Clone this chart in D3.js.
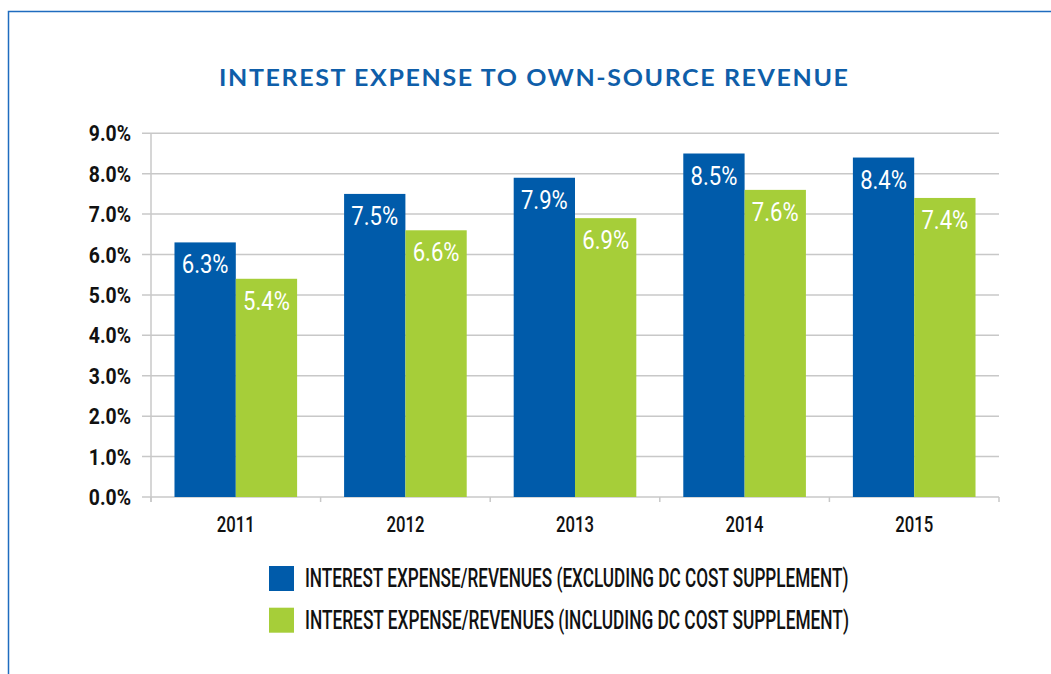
<!DOCTYPE html>
<html>
<head>
<meta charset="utf-8">
<script src="https://cdn.jsdelivr.net/npm/d3@7"></script>
<style>
  html, body { margin: 0; padding: 0; background: #fff; }
  svg { display: block; }
  .narrow { font-family: Roboto, "DejaVu Sans", sans-serif; }
</style>
</head>
<body>
<svg id="chart" width="1051" height="674"></svg>
<script>
// Chart data
const years = ["2011", "2012", "2013", "2014", "2015"];
const excludingSupplement = [6.3, 7.5, 7.9, 8.5, 8.4];
const includingSupplement = [5.4, 6.6, 6.9, 7.6, 7.4];
const seriesNames = [
  "INTEREST EXPENSE/REVENUES (EXCLUDING DC COST SUPPLEMENT)",
  "INTEREST EXPENSE/REVENUES (INCLUDING DC COST SUPPLEMENT)"
];
const yTicks = [0, 1, 2, 3, 4, 5, 6, 7, 8, 9];
const titleText = "INTEREST EXPENSE TO OWN-SOURCE REVENUE";

const colors = ["#005BAA", "#A6CE39"];
const series = [excludingSupplement, includingSupplement];

const svg = d3.select("#chart");

// squeeze a text horizontally so that it spans the given width
function squeeze(sel, width) {
  sel.each(function () {
    const t = d3.select(this);
    const len = this.getComputedTextLength();
    const s = len > 0 ? width / len : 1;
    const x = +t.attr("x"), y = +t.attr("y");
    t.attr("x", 0).attr("y", 0)
      .attr("transform", `translate(${x},${y}) scale(${s},1)`);
  });
}
// condense a text by a fixed horizontal factor
function condense(sel, s) {
  sel.each(function () {
    const t = d3.select(this);
    const x = +t.attr("x"), y = +t.attr("y");
    t.attr("x", 0).attr("y", 0)
      .attr("transform", `translate(${x},${y}) scale(${s},1)`);
  });
}

// outer frame
svg.append("rect")
  .attr("x", 8.5).attr("y", 11.5)
  .attr("width", 1100).attr("height", 700)
  .attr("fill", "none")
  .attr("stroke", "#1f6cbf")
  .attr("stroke-width", 1.5);

// title
svg.append("text")
  .attr("x", 219).attr("y", 86)
  .attr("fill", "#0f5ea9")
  .style("font-family", "Lato, 'Open Sans', sans-serif")
  .style("font-weight", 700)
  .style("font-size", "23px")
  .style("letter-spacing", "1.5px")
  .text(titleText)
  .call(squeeze, 631);

const plot = { left: 151, right: 999, top: 133.3, bottom: 497 };

const x0 = d3.scaleBand()
  .domain(years)
  .range([plot.left, plot.right])
  .paddingInner(0.277)
  .paddingOuter(0.1385);

const x1 = d3.scaleBand()
  .domain(d3.range(series.length))
  .range([0, x0.bandwidth()])
  .padding(0);

const y = d3.scaleLinear().domain([0, 9]).range([plot.bottom, plot.top]);

// horizontal gridlines
svg.append("g")
  .selectAll("line")
  .data(yTicks)
  .join("line")
  .attr("x1", plot.left - 9).attr("x2", plot.right)
  .attr("y1", d => y(d)).attr("y2", d => y(d))
  .attr("stroke", "#c8c8c8")
  .attr("stroke-width", 1.5);

// y axis labels
svg.append("g")
  .selectAll("text")
  .data(yTicks)
  .join("text")
  .attr("class", "narrow")
  .attr("x", 131)
  .attr("y", d => y(d) + 8)
  .attr("text-anchor", "end")
  .attr("fill", "#111")
  .style("font-size", "22px")
  .style("font-weight", 700)
  .text(d => d3.format(".1f")(d) + "%")
  .call(condense, 0.88);

// vertical axis line
svg.append("line")
  .attr("x1", plot.left).attr("x2", plot.left)
  .attr("y1", plot.top).attr("y2", plot.bottom + 5)
  .attr("stroke", "#c8c8c8")
  .attr("stroke-width", 1.5);

// x tick marks at category boundaries
const boundaries = years.map(d => x0(d) - x0.step() * x0.paddingOuter()).concat([plot.right]);
svg.append("g")
  .selectAll("line")
  .data(boundaries)
  .join("line")
  .attr("x1", d => d).attr("x2", d => d)
  .attr("y1", plot.bottom).attr("y2", plot.bottom + 5)
  .attr("stroke", "#c8c8c8")
  .attr("stroke-width", 1.5);

// bars
const groups = svg.append("g")
  .selectAll("g")
  .data(years)
  .join("g")
  .attr("transform", d => `translate(${x0(d)},0)`);

groups.selectAll("rect")
  .data((d, i) => series.map((s, k) => ({ k, v: s[i] })))
  .join("rect")
  .attr("x", d => x1(d.k))
  .attr("width", x1.bandwidth())
  .attr("y", d => y(d.v))
  .attr("height", d => y(0) - y(d.v))
  .attr("fill", d => colors[d.k]);

// value labels inside bar tops
groups.selectAll("text")
  .data((d, i) => series.map((s, k) => ({ k, v: s[i] })))
  .join("text")
  .attr("class", "narrow")
  .attr("x", d => x1(d.k) + x1.bandwidth() / 2)
  .attr("y", d => y(d.v) + 31)
  .attr("text-anchor", "middle")
  .attr("fill", "#fff")
  .style("font-size", "26px")
  .text(d => d3.format(".1f")(d.v) + "%")
  .call(condense, 0.85);

// x axis labels
svg.append("g")
  .selectAll("text")
  .data(years)
  .join("text")
  .attr("class", "narrow")
  .attr("x", d => x0(d) + x0.bandwidth() / 2)
  .attr("y", 532)
  .attr("text-anchor", "middle")
  .attr("fill", "#111")
  .style("font-size", "22px")
  .style("font-weight", 500)
  .text(d => d)
  .call(condense, 0.76);

// legend
const legend = svg.append("g")
  .selectAll("g")
  .data(seriesNames)
  .join("g")
  .attr("transform", (d, i) => `translate(269,${566 + i * 41.7})`);

legend.append("rect")
  .attr("width", 25).attr("height", 25)
  .attr("fill", (d, i) => colors[i]);

legend.append("text")
  .attr("class", "narrow")
  .attr("x", 36).attr("y", 21.3)
  .attr("fill", "#111")
  .style("font-size", "26px")
  .style("font-weight", 500)
  .text(d => d)
  .call(squeeze, 544);
</script>
</body>
</html>
